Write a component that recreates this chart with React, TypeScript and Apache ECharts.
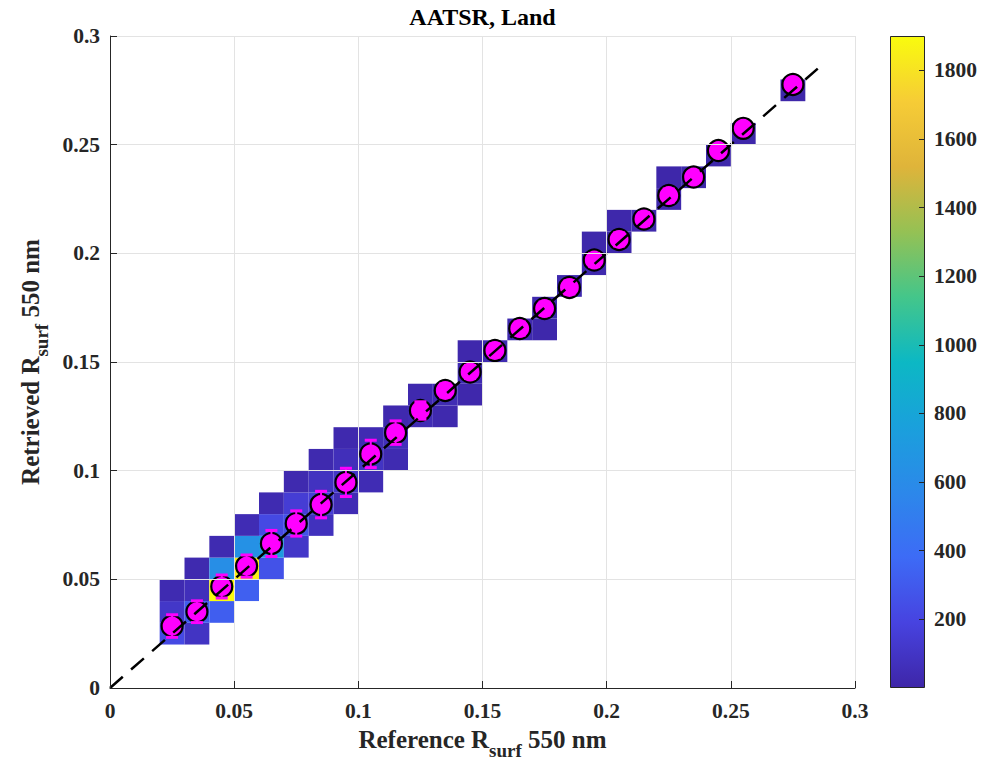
import React, { useEffect, useRef } from "react";
import * as echarts from "echarts";

// ---------- data ----------
const AXIS_MIN = 0;
const AXIS_MAX = 0.3;
const AXIS_STEP = 0.05;
const BIN = 0.01;
const CB_MIN = 0;
const CB_MAX = 1900;
const CB_STEP = 200;

// 2-D histogram cells (bin centres, counts)
const cellX = [
  0.025, 0.025, 0.025,
  0.035, 0.035, 0.035, 0.035,
  0.045, 0.045, 0.045, 0.045,
  0.055, 0.055, 0.055, 0.055,
  0.065, 0.065, 0.065, 0.065,
  0.075, 0.075, 0.075, 0.075,
  0.085, 0.085, 0.085, 0.085,
  0.095, 0.095, 0.095, 0.095,
  0.105, 0.105, 0.105,
  0.115, 0.115, 0.115,
  0.125, 0.125,
  0.135, 0.135,
  0.145, 0.145, 0.145,
  0.155,
  0.165,
  0.175, 0.175,
  0.185,
  0.195, 0.195,
  0.205, 0.205,
  0.215,
  0.225, 0.225,
  0.235,
  0.245,
  0.255,
  0.275,
];
const cellY = [
  0.025, 0.035, 0.045,
  0.025, 0.035, 0.045, 0.055,
  0.035, 0.045, 0.055, 0.065,
  0.045, 0.055, 0.065, 0.075,
  0.055, 0.065, 0.075, 0.085,
  0.065, 0.075, 0.085, 0.095,
  0.075, 0.085, 0.095, 0.105,
  0.085, 0.095, 0.105, 0.115,
  0.095, 0.105, 0.115,
  0.105, 0.115, 0.125,
  0.125, 0.135,
  0.125, 0.135,
  0.135, 0.145, 0.155,
  0.155,
  0.165,
  0.165, 0.175,
  0.185,
  0.195, 0.205,
  0.205, 0.215,
  0.215,
  0.225, 0.235,
  0.235,
  0.245,
  0.255,
  0.275,
];
const cellCount = [
  220, 110, 30,
  90, 300, 60, 25,
  320, 1900, 620, 30,
  330, 1850, 640, 40,
  260, 720, 220, 30,
  110, 260, 150, 25,
  70, 160, 80, 25,
  40, 110, 60, 20,
  40, 90, 35,
  30, 60, 20,
  40, 20,
  20, 40,
  15, 35, 15,
  30,
  25,
  10, 20,
  20,
  20, 10,
  15, 10,
  15,
  15, 8,
  12,
  10,
  8,
  5,
];

// binned means with standard deviations
const binCentre = [
  0.025, 0.035, 0.045, 0.055, 0.065, 0.075, 0.085, 0.095, 0.105, 0.115,
  0.125, 0.135, 0.145, 0.155, 0.165, 0.175, 0.185, 0.195, 0.205, 0.215,
  0.225, 0.235, 0.245, 0.255, 0.275,
];
const meanRetrieved = [
  0.0285, 0.0351, 0.0467, 0.0561, 0.0665, 0.0757, 0.0844, 0.0946, 0.1077, 0.1175,
  0.1277, 0.1369, 0.1454, 0.1553, 0.1654, 0.1746, 0.1843, 0.1969, 0.2064, 0.2158,
  0.2266, 0.2351, 0.2473, 0.2575, 0.2777,
];
const stdRetrieved = [
  0.0052, 0.005, 0.0053, 0.0051, 0.006, 0.0058, 0.0061, 0.0065, 0.0063, 0.0054,
  0.004, 0.003, 0.003, 0.003, 0.003, 0.003, 0.003, 0.003, 0.003, 0.003,
  0.003, 0.002, 0.002, 0.002, 0.002,
];

const oneToOne = [
  [0, 0],
  [0.285, 0.285],
];

const PARULA = [
  "#3e26a8", "#4743e0", "#3d6bf6", "#2c88ea", "#1aa0dc", "#0cb8c4",
  "#44c68a", "#95c154", "#dfb43a", "#f6cc36", "#f9fb0e",
];

const TITLE = "AATSR, Land";
const FONT = "'Liberation Serif', 'Times New Roman', Times, serif";
const INK = "#262626";

export default function App() {
  const ref = useRef<HTMLDivElement>(null);

  useEffect(() => {
    if (!ref.current) return;
    const chart = echarts.init(ref.current, undefined, { renderer: "svg" });

    const heatData = cellX.map((x, k) => [x, cellY[k], cellCount[k]]);
    const pointData = binCentre.map((x, k) => [x, meanRetrieved[k]]);
    const errData = binCentre.map((x, k) => [x, meanRetrieved[k], stdRetrieved[k]]);

    const fmt = (v: number) => String(parseFloat(Number(v).toFixed(3)));
    const tickFont = { fontFamily: FONT, fontWeight: "bold" as const, fontSize: 21.5, color: INK };

    const nameRich = {
      a: { fontFamily: FONT, fontWeight: "bold", fontSize: 25, color: INK, lineHeight: 27, verticalAlign: "top" },
      s: { fontFamily: FONT, fontWeight: "bold", fontSize: 19, color: INK, lineHeight: 20, padding: [14, 0, 0, 0], verticalAlign: "top" },
    };

    const option: any = {
      animation: false,
      backgroundColor: "#ffffff",
      graphic: [
        {
          type: "text",
          x: 482.5,
          y: 17,
          style: {
            text: TITLE,
            fontFamily: FONT,
            fontWeight: "bold",
            fontSize: 24,
            fill: "#000",
            align: "center",
            verticalAlign: "middle",
          },
        },
      ],
      grid: [
        { left: 110, right: 137, top: 36, bottom: 77 },
        { left: 890, top: 36, width: 35, height: 652 },
      ],
      visualMap: {
        show: false,
        type: "continuous",
        min: CB_MIN,
        max: CB_MAX,
        dimension: 2,
        seriesIndex: 0,
        inRange: { color: PARULA },
      },
      xAxis: [
        {
          type: "value",
          gridIndex: 0,
          min: AXIS_MIN,
          max: AXIS_MAX,
          interval: AXIS_STEP,
          name: "{a|Reference R}{s|surf}{a| 550 nm}",
          nameLocation: "middle",
          nameGap: 39,
          nameTextStyle: { rich: nameRich },
          axisLine: { show: true, onZero: false, lineStyle: { color: INK, width: 1 } },
          axisTick: { show: true, inside: true, length: 7, lineStyle: { color: INK } },
          axisLabel: { ...tickFont, margin: 12, formatter: fmt },
          splitLine: { show: true, lineStyle: { color: "#e3e3e3", width: 1 } },
          z: 10,
        },
        { type: "category", gridIndex: 1, data: ["cb"], show: false },
      ],
      yAxis: [
        {
          type: "value",
          gridIndex: 0,
          min: AXIS_MIN,
          max: AXIS_MAX,
          interval: AXIS_STEP,
          name: "{a|Retrieved R}{s|surf}{a| 550 nm}",
          nameLocation: "middle",
          nameGap: 56,
          nameTextStyle: { rich: nameRich },
          axisLine: { show: true, onZero: false, lineStyle: { color: INK, width: 1 } },
          axisTick: { show: true, inside: true, length: 7, lineStyle: { color: INK } },
          axisLabel: { ...tickFont, margin: 10, formatter: fmt },
          splitLine: { show: true, lineStyle: { color: "#e3e3e3", width: 1 } },
          z: 10,
        },
        {
          type: "value",
          gridIndex: 1,
          position: "right",
          min: CB_MIN,
          max: CB_MAX,
          interval: CB_STEP,
          axisLine: { show: false },
          axisTick: { show: true, inside: true, length: 6, lineStyle: { color: INK } },
          axisLabel: { ...tickFont, margin: 9, showMinLabel: false, showMaxLabel: false, formatter: (v: number) => String(v) },
          splitLine: { show: false },
          z: 10,
        },
      ],
      series: [
        {
          type: "custom",
          xAxisIndex: 0,
          yAxisIndex: 0,
          data: heatData,
          encode: { x: 0, y: 1 },
          z: 1,
          silent: true,
          renderItem: (_params: any, api: any) => {
            const x = api.value(0);
            const y = api.value(1);
            const p0 = api.coord([x - BIN / 2, y - BIN / 2]);
            const p1 = api.coord([x + BIN / 2, y + BIN / 2]);
            return {
              type: "rect",
              shape: { x: p0[0], y: p1[1], width: p1[0] - p0[0], height: p0[1] - p1[1] },
              style: { fill: api.visual("color") },
            };
          },
        },
        {
          type: "scatter",
          xAxisIndex: 0,
          yAxisIndex: 0,
          data: pointData,
          symbol: "circle",
          symbolSize: 21,
          itemStyle: { color: "#ff00ff", borderColor: "#000", borderWidth: 2.2, opacity: 1 },
          z: 3,
          silent: true,
        },
        {
          type: "custom",
          xAxisIndex: 0,
          yAxisIndex: 0,
          data: errData,
          encode: { x: 0, y: 1 },
          z: 4,
          silent: true,
          renderItem: (_params: any, api: any) => {
            const x = api.value(0);
            const y = api.value(1);
            const e = api.value(2);
            const top = api.coord([x, y + e]);
            const bot = api.coord([x, y - e]);
            const half = 6;
            const st = { stroke: "#ff00ff", lineWidth: 3 };
            return {
              type: "group",
              children: [
                { type: "line", shape: { x1: top[0], y1: top[1], x2: bot[0], y2: bot[1] }, style: { stroke: "#ff00ff", lineWidth: 2 } },
                { type: "line", shape: { x1: top[0] - half, y1: top[1], x2: top[0] + half, y2: top[1] }, style: st },
                { type: "line", shape: { x1: bot[0] - half, y1: bot[1], x2: bot[0] + half, y2: bot[1] }, style: st },
              ],
            };
          },
        },
        {
          type: "line",
          xAxisIndex: 0,
          yAxisIndex: 0,
          data: oneToOne,
          symbol: "none",
          lineStyle: { color: "#000", width: 2.5, type: [17, 11] },
          z: 5,
          silent: true,
        },
        {
          type: "bar",
          xAxisIndex: 1,
          yAxisIndex: 1,
          data: [CB_MAX],
          barWidth: "100%",
          silent: true,
          z: 1,
          itemStyle: {
            color: new echarts.graphic.LinearGradient(0, 1, 0, 0, PARULA.map((c, k) => ({ offset: k / (PARULA.length - 1), color: c }))),
            borderColor: INK,
            borderWidth: 1,
          },
        },
      ],
    };

    chart.setOption(option);
    return () => chart.dispose();
  }, []);

  return <div ref={ref} style={{ width: 992, height: 765, margin: -8 }} />;
}
